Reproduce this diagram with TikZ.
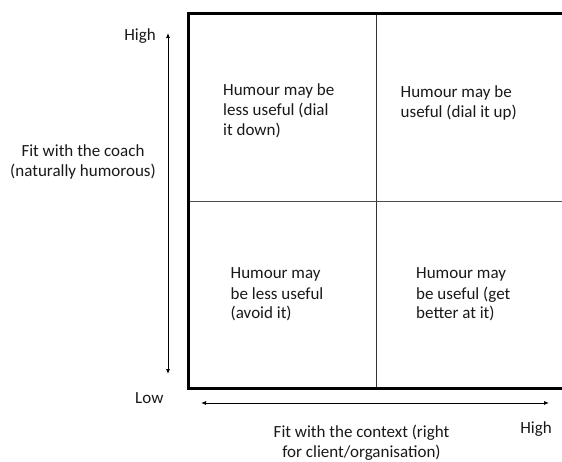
\documentclass[tikz,border=0pt]{standalone}
\usepackage{fontspec}
\setmainfont{Carlito}
\usetikzlibrary{arrows.meta}
\begin{document}
\begin{tikzpicture}[x=1pt,y=-1pt,
  lbl/.style={inner sep=0pt, font=\fontsize{17}{20}\selectfont, text=black!90},
  quad/.style={lbl, anchor=base west, align=left},
  axis/.style={line width=0.8pt, {Latex[length=5pt,width=4pt]}-{Latex[length=5pt,width=4pt]}}]
\useasboundingbox (0,0) rectangle (562,462);
\clip (0,0) rectangle (562,462);
% frame
\coordinate (tl) at (188,14);
\coordinate (br) at (570,388.5);
\draw[line width=0.9pt, black!80] (376,14) -- (376,388);
\draw[line width=0.9pt, black!70] (188,201) -- (570,201);
\draw[line width=3pt] (tl) rectangle (br);
% quadrant texts (anchor = baseline of last line)
\node[quad] (q1) at (223,136) {Humour may be\\less useful (dial\\it down)};
\node[quad] (q2) at (400.5,118) {Humour may be\\useful (dial it up)};
\node[quad] (q3) at (230.5,319) {Humour may\\be less useful\\(avoid it)};
\node[quad] (q4) at (416,319) {Humour may\\be useful (get\\better at it)};
% axes
\coordinate (vtop) at (168,33);
\coordinate (vbot) at (168,374);
\coordinate (hl) at (201,403);
\coordinate (hr) at (549,403);
\draw[axis] (vbot) -- (vtop);
\draw[axis] (hl) -- (hr);
% axis labels
\node[lbl, anchor=base east] (yhigh) at (156,41) {High};
\node[lbl, anchor=base, align=center] (ylab) at (83,177) {Fit with the coach\\(naturally humorous)};
\node[lbl, anchor=base west] (ylow) at (135,403) {Low};
\node[lbl, anchor=base east] (xhigh) at (552,433) {High};
\node[lbl, anchor=base, align=center] (xlab) at (361.5,457) {Fit with the context (right\\for client/organisation)};
\end{tikzpicture}
\end{document}
